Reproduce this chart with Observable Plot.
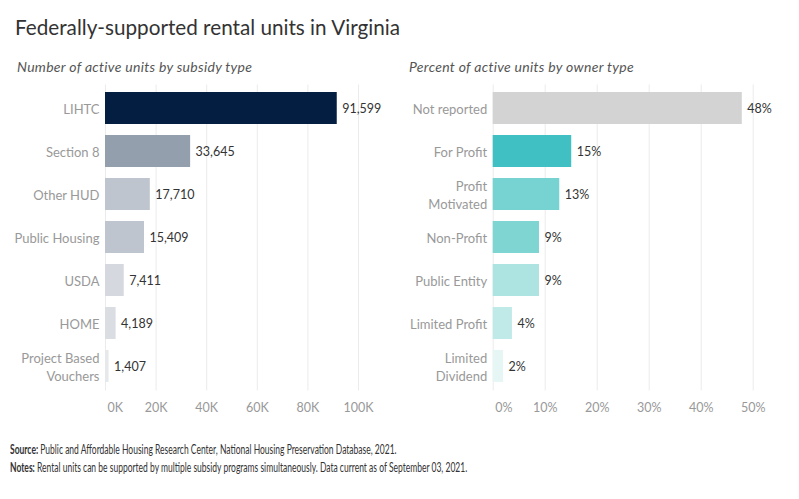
<!DOCTYPE html>
<html><head><meta charset="utf-8">
<script src="https://cdn.jsdelivr.net/npm/d3@7"></script>
<script src="https://cdn.jsdelivr.net/npm/@observablehq/plot@0.6"></script>
<style>
body{margin:0;background:#fff;font-family:Lato,sans-serif;width:799px;height:499px;position:relative;overflow:hidden}
#title{position:absolute;left:15px;top:15px;font-size:20.7px;color:#333;line-height:24px;white-space:nowrap}
.sub{position:absolute;top:59px;font-size:14px;letter-spacing:0.3px;font-style:italic;color:#555;line-height:16px;white-space:nowrap}
#sub1{left:17px}#sub2{left:409px}
#left{position:absolute;left:0;top:80px}
#right{position:absolute;left:400px;top:80px}
#cap{position:absolute;left:10px;top:441px;font-size:12.5px;line-height:18px;color:#333;white-space:nowrap;transform:scaleX(0.68);transform-origin:0 0}
#cap b{font-weight:bold;color:#333}
</style></head><body>
<div id="title">Federally-supported rental units in Virginia</div>
<div class="sub" id="sub1">Number of active units by subsidy type</div>
<div class="sub" id="sub2">Percent of active units by owner type</div>
<div id="left"></div>
<div id="right"></div>
<div id="cap"><div><b>Source:</b> Public and Affordable Housing Research Center, National Housing Preservation Database, 2021.</div><div><b>Notes:</b> Rental units can be supported by multiple subsidy programs simultaneously. Data current as of September 03, 2021.</div></div>
<script>
const subsidyTypes = ["LIHTC", "Section 8", "Other HUD", "Public Housing", "USDA", "HOME", "Project Based\nVouchers"];
const subsidyUnits = [91599, 33645, 17710, 15409, 7411, 4189, 1407];
const subsidyPalette = ["#041e42", "#949fae", "#bec5ce", "#bec5ce", "#d5d9df", "#dadde2", "#e6e8ec"];
const unitTicks = [0, 20000, 40000, 60000, 80000, 100000];

const ownerTypes = ["Not reported", "For Profit", "Profit\nMotivated", "Non-Profit", "Public Entity", "Limited Profit", "Limited\nDividend"];
const ownerShare = [47.9, 15.1, 12.8, 8.9, 8.9, 3.7, 2.0];
const ownerPalette = ["#d3d3d3", "#40c0c3", "#76d3d1", "#7fd5d2", "#ade4e2", "#c0eae7", "#e6f6f5"];
const shareTicks = [0, 10, 20, 30, 40, 50];

const subsidyData = subsidyTypes.map((t, i) => ({type: t, value: subsidyUnits[i]}));
const ownerData = ownerTypes.map((t, i) => ({type: t, value: ownerShare[i]}));

const font = "Lato, sans-serif";
const axisGray = "#999";

function panel({data, types, palette, ticks, width, marginLeft, marginRight, tickFmt, labelFmt}) {
  return Plot.plot({
    width, height: 340,
    marginLeft, marginRight, marginTop: 4.5, marginBottom: 29.6,
    style: {fontFamily: font, fontSize: "12px", color: axisGray, background: "transparent", overflow: "visible"},
    x: {domain: [ticks[0], ticks[ticks.length - 1]], label: null},
    y: {domain: types, paddingInner: 0.245, paddingOuter: 0.12, label: null},
    color: {domain: types, range: palette},
    marks: [
      Plot.gridX(ticks, {stroke: "#ebebeb", strokeOpacity: 1}),
      Plot.barX(data, {x: "value", y: "type", fill: "type"}),
      Plot.text(data, {x: "value", y: "type", text: d => labelFmt(d.value), textAnchor: "start", dx: 5, fill: "#333", fontSize: 12.5}),
      Plot.axisX(ticks.slice(0, 1), {tickFormat: tickFmt, tickSize: 0, tickPadding: 12, label: null, fill: axisGray, textAnchor: "start", dx: 2, fontSize: 12.5}),
      Plot.axisX(ticks.slice(1), {tickFormat: tickFmt, tickSize: 0, tickPadding: 12, label: null, fill: axisGray, fontSize: 12.5}),
      Plot.axisY({tickSize: 0, tickPadding: 6, label: null, lineHeight: 1.4, fill: axisGray, fontSize: 13})
    ]
  });
}

document.getElementById("left").append(panel({
  data: subsidyData, types: subsidyTypes, palette: subsidyPalette, ticks: unitTicks,
  width: 400, marginLeft: 105, marginRight: 42,
  tickFmt: d => d / 1000 + "K", labelFmt: d3.format(",")
}));
document.getElementById("right").append(panel({
  data: ownerData, types: ownerTypes, palette: ownerPalette, ticks: shareTicks,
  width: 399, marginLeft: 92.7, marginRight: 46.3,
  tickFmt: d => d + "%", labelFmt: d => Math.round(d) + "%"
}));
</script>
</body></html>
